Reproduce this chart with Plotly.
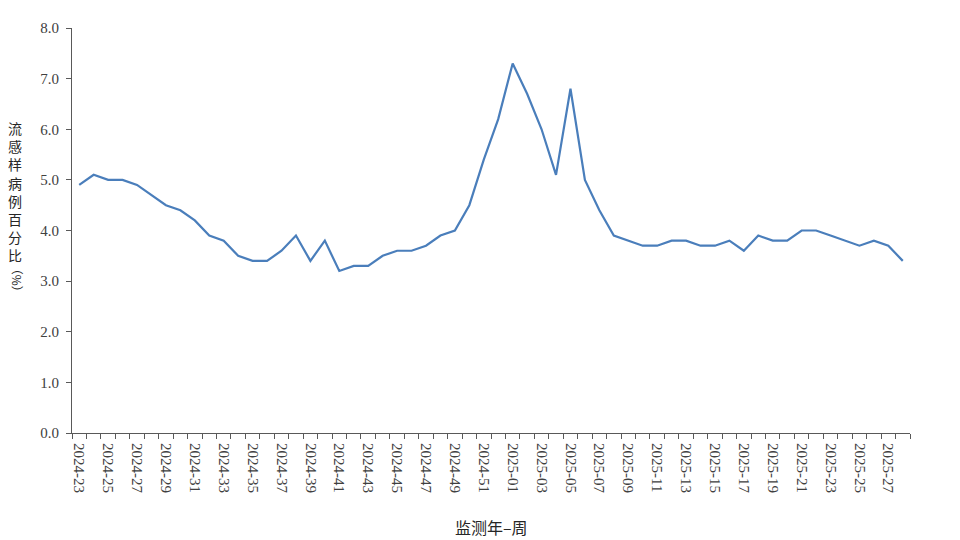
import plotly.graph_objects as go

weeks = [f"2024-{w:02d}" for w in range(23, 53)] + [f"2025-{w:02d}" for w in range(1, 29)]
ili_pct = [4.9, 5.1, 5.0, 5.0, 4.9, 4.7, 4.5, 4.4, 4.2, 3.9,
           3.8, 3.5, 3.4, 3.4, 3.6, 3.9, 3.4, 3.8, 3.2, 3.3,
           3.3, 3.5, 3.6, 3.6, 3.7, 3.9, 4.0, 4.5, 5.4, 6.2,
           7.3, 6.7, 6.0, 5.1, 6.8, 5.0, 4.4, 3.9, 3.8, 3.7,
           3.7, 3.8, 3.8, 3.7, 3.7, 3.8, 3.6, 3.9, 3.8, 3.8,
           4.0, 4.0, 3.9, 3.8, 3.7, 3.8, 3.7, 3.4]
y_ticks = [0, 1, 2, 3, 4, 5, 6, 7, 8]

idx = list(range(len(weeks)))

fig = go.Figure()
fig.add_trace(go.Scatter(x=idx, y=ili_pct, mode="lines",
                         line=dict(color="#4A7EBB", width=2.2),
                         hoverinfo="skip", showlegend=False))

serif = "Liberation Serif, Times New Roman, serif"
fig.update_layout(
    width=952, height=532,
    margin=dict(l=64, r=50, t=15, b=107),
    paper_bgcolor="white", plot_bgcolor="white",
    font=dict(family=serif, color="#404040", size=15),
    xaxis=dict(
        range=[-0.5, len(weeks) - 0.5],
        tickmode="array", tickvals=idx[::2], ticktext=weeks[::2],
        tickangle=90, ticks="", ticklen=0, ticklabelstandoff=6,
        showline=True, linecolor="#595959", linewidth=1,
        showgrid=False, zeroline=False,
        tickfont=dict(family=serif, size=15, color="#404040"),
        minor=dict(tickmode="linear", tick0=-0.5, dtick=1, ticks="outside",
                   ticklen=5, tickcolor="#595959", showgrid=False),
    ),
    yaxis=dict(
        range=[0, 8], tickmode="array", tickvals=y_ticks,
        ticktext=[f"{v:.1f}" for v in y_ticks],
        ticks="outside", ticklen=5, tickcolor="#595959", ticklabelstandoff=4,
        showline=True, linecolor="#595959", linewidth=1,
        showgrid=False, zeroline=False,
        tickfont=dict(family=serif, size=15, color="#404040"),
    ),
)

fig.add_annotation(text="<br>".join(list("流感样病例百分比")),
                   xref="paper", yref="paper", x=-0.0675, y=0.596,
                   xanchor="center", yanchor="middle", showarrow=False,
                   font=dict(family="Noto Sans CJK SC", size=14, color="#262626"))
fig.add_annotation(text="（%）", textangle=90,
                   xref="paper", yref="paper", x=-0.0655, y=0.378,
                   xanchor="center", yanchor="middle", showarrow=False,
                   font=dict(family="Noto Sans CJK SC", size=12, color="#262626"))
fig.add_annotation(text="监测年–周", xref="paper", yref="paper",
                   x=0.5, y=-0.232, xanchor="center", yanchor="middle",
                   showarrow=False,
                   font=dict(family="Noto Sans CJK SC", size=16, color="#262626"))

fig.write_html("out.html")
